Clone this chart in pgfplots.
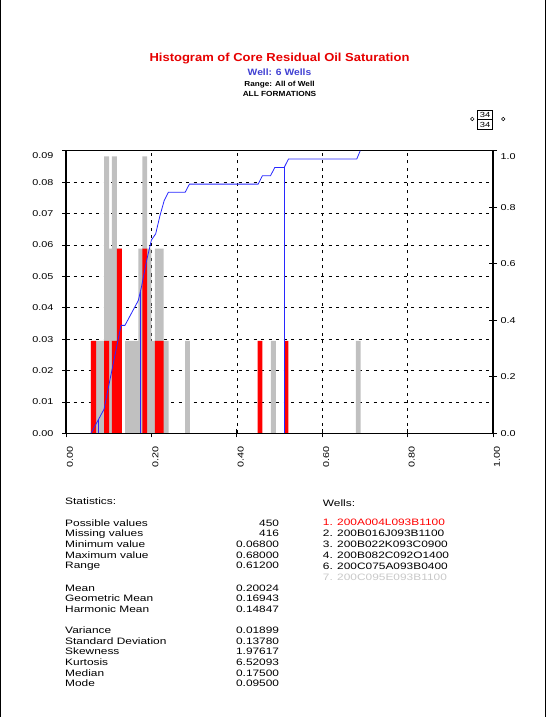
\documentclass[border=0pt]{standalone}
\usepackage{pgfplots}
\pgfplotsset{compat=1.18}
\usepackage{fontspec}
\setmainfont{Liberation Sans}
\newfontfamily\tfont{Liberation Sans}[FakeStretch=1.12]
\newfontfamily\sfont{Liberation Sans}[FakeStretch=1.28]
\newfontfamily\kfont{Liberation Sans}[FakeStretch=1.27]
\definecolor{barred}{RGB}{255,0,0}
\definecolor{bargray}{RGB}{192,192,192}
\definecolor{cdfblue}{RGB}{40,40,255}
\definecolor{titlered}{RGB}{230,0,0}
\definecolor{subblue}{RGB}{64,64,210}
\definecolor{lightgr}{RGB}{200,200,200}
\newcommand{\stat}[3]{%
  \node[anchor=base west, inner sep=0pt, font=\sfont\fontsize{9.3}{11}\selectfont] at (65pt,#1pt) {#2};
  \node[anchor=base east, inner sep=0pt, font=\sfont\fontsize{9.3}{11}\selectfont] at (279.3pt,#1pt) {#3};}
\newcommand{\well}[3]{%
  \node[anchor=base west, inner sep=0pt, font=\sfont\fontsize{9.3}{11}\selectfont, text=#3] at (322.7pt,#1pt) {#2};}
\begin{document}
\begin{tikzpicture}
\useasboundingbox (0,0) rectangle (546pt,717pt);
\draw[line width=0.8pt] (0.6pt,0) -- (0.6pt,717pt);
\draw[line width=0.8pt] (545.4pt,0) -- (545.4pt,717pt);

% titles
\node[anchor=base, font=\tfont\bfseries\fontsize{11.6}{13}\selectfont, text=titlered] at (279.5pt,655.5pt) {Histogram of Core Residual Oil Saturation};
\node[anchor=base, font=\tfont\bfseries\fontsize{9.2}{11}\selectfont, text=subblue] at (279.5pt,641.4pt) {Well: 6 Wells};
\node[anchor=base, font=\tfont\bfseries\fontsize{7.3}{9}\selectfont] at (279.5pt,630pt) {Range: All of Well};
\node[anchor=base, font=\tfont\bfseries\fontsize{7.4}{9}\selectfont] at (279.5pt,620pt) {ALL FORMATIONS};

% 34/34 box
\draw[line width=0.6pt] (477.3pt,587.7pt) rectangle (492.7pt,607pt);
\draw[line width=0.6pt] (477.3pt,597.3pt) -- (492.7pt,597.3pt);
\node[font=\kfont\fontsize{7.4}{9}\selectfont, inner sep=0pt] at (485pt,602.3pt) {34};
\node[font=\kfont\fontsize{7.4}{9}\selectfont, inner sep=0pt] at (485pt,592.5pt) {34};
\draw[line width=0.5pt] (472.3pt,598pt) circle (1.8pt);
\draw[line width=0.5pt] (503.2pt,598pt) circle (1.8pt);

\begin{axis}[
  at={(66pt,283.7pt)}, anchor=south west,
  width=427pt, height=282.5pt, scale only axis,
  xmin=0, xmax=1, ymin=0, ymax=0.09,
  scaled ticks=false,
  xtick={0,0.2,0.4,0.6,0.8,1},
  xticklabels={0.00,0.20,0.40,0.60,0.80,1.00},
  ytick={0,0.01,0.02,0.03,0.04,0.05,0.06,0.07,0.08,0.09},
  yticklabels={0.00,0.01,0.02,0.03,0.04,0.05,0.06,0.07,0.08,\smash{\raisebox{-8pt}{0.09}}},
  xtick pos=left, ytick pos=left,
  tick align=center,
  major tick length=8pt,
  tick style={black, line width=0.8pt},
  axis line style={line width=1.3pt},
  grid=major,
  major grid style={black, line width=0.6pt, dash pattern=on 3pt off 4.5pt},
  tick label style={font=\kfont\fontsize{8.5}{10}\selectfont},
  xticklabel style={rotate=90, anchor=east, yshift=-4pt, xshift=-6pt},
  yticklabel style={xshift=-5pt},
]
\addplot[ybar interval, fill=bargray, draw=none] coordinates {
(0.0585,0.02941) (0.0890,0.08824) (0.1007,0.05882) (0.1077,0.08824)
(0.1194,0.05882) (0.1311,0) (0.1382,0.02941) (0.1693,0.05882)
(0.1787,0.08824) (0.1897,0.05882) (0.1998,0.02941) (0.2084,0.05882)
(0.2288,0.02941) (0.2405,0) (0.2790,0.02941) (0.2902,0)
(0.4800,0.02941) (0.4915,0) (0.6790,0.02941) (0.6900,0)};
\addplot[ybar interval, fill=barred, draw=none] coordinates {
(0.0585,0.02941) (0.0703,0) (0.0890,0.02941) (0.1007,0)
(0.1077,0.02941) (0.1194,0.05882) (0.1311,0) (0.1787,0.05882)
(0.1897,0) (0.2084,0.02941) (0.2288,0) (0.4490,0.02941)
(0.4600,0) (0.5120,0.02941) (0.5210,0)};
\end{axis}

\begin{axis}[
  at={(66pt,283.7pt)}, anchor=south west,
  width=427pt, height=282.5pt, scale only axis,
  xmin=0, xmax=1, ymin=0, ymax=1,
  scaled ticks=false,
  xtick=\empty,
  ytick={0,0.2,0.4,0.6,0.8,1},
  yticklabels={0.0,0.2,0.4,0.6,0.8,\smash{\raisebox{-9pt}{1.0}}},
  ytick pos=right,
  tick align=center,
  major tick length=8pt,
  tick style={black, line width=0.8pt},
  axis line style={line width=1.3pt},
  tick label style={font=\kfont\fontsize{8.5}{10}\selectfont},
]
\addplot[cdfblue, line width=0.8pt] coordinates {
(0.0585,0) (0.0890,0.085) (0.1288,0.382) (0.1380,0.382) (0.1693,0.470)
(0.1770,0.520) (0.1890,0.613) (0.2000,0.684) (0.2100,0.706) (0.2200,0.770)
(0.2300,0.824) (0.2396,0.853) (0.2790,0.853) (0.2890,0.882) (0.4500,0.882)
(0.4600,0.912) (0.4790,0.912) (0.4890,0.941) (0.5110,0.941) (0.5210,0.971)
(0.6810,0.971) (0.6890,1.0)};
\addplot[cdfblue, line width=0.8pt] coordinates {(0.0757,0) (0.0757,0.047)};
\addplot[cdfblue, line width=0.8pt] coordinates {(0.1733,0) (0.1733,0.50)};
\addplot[cdfblue, line width=0.8pt] coordinates {(0.5110,0) (0.5110,0.941)};
\end{axis}

% statistics
\node[anchor=base west, inner sep=0pt, font=\sfont\fontsize{9.3}{11}\selectfont] at (65pt,212pt) {Statistics:};
\stat{190.3}{Possible values}{450}
\stat{180.3}{Missing values}{416}
\stat{169.6}{Minimum value}{0.06800}
\stat{158.9}{Maximum value}{0.68000}
\stat{148.6}{Range}{0.61200}
\stat{125.9}{Mean}{0.20024}
\stat{115.3}{Geometric Mean}{0.16943}
\stat{104.9}{Harmonic Mean}{0.14847}
\stat{83.6}{Variance}{0.01899}
\stat{72.9}{Standard Deviation}{0.13780}
\stat{62.3}{Skewness}{1.97617}
\stat{51.3}{Kurtosis}{6.52093}
\stat{40.9}{Median}{0.17500}
\stat{30.3}{Mode}{0.09500}

% wells
\node[anchor=base west, inner sep=0pt, font=\sfont\fontsize{9.3}{11}\selectfont] at (322.7pt,210.9pt) {Wells:};
\well{191.3}{1. 200A004L093B1100}{barred}
\well{180.3}{2. 200B016J093B1100}{black}
\well{169.3}{3. 200B022K093C0900}{black}
\well{158.6}{4. 200B082C092O1400}{black}
\well{147.9}{6. 200C075A093B0400}{black}
\well{136.9}{7. 200C095E093B1100}{lightgr}
\end{tikzpicture}
\end{document}
